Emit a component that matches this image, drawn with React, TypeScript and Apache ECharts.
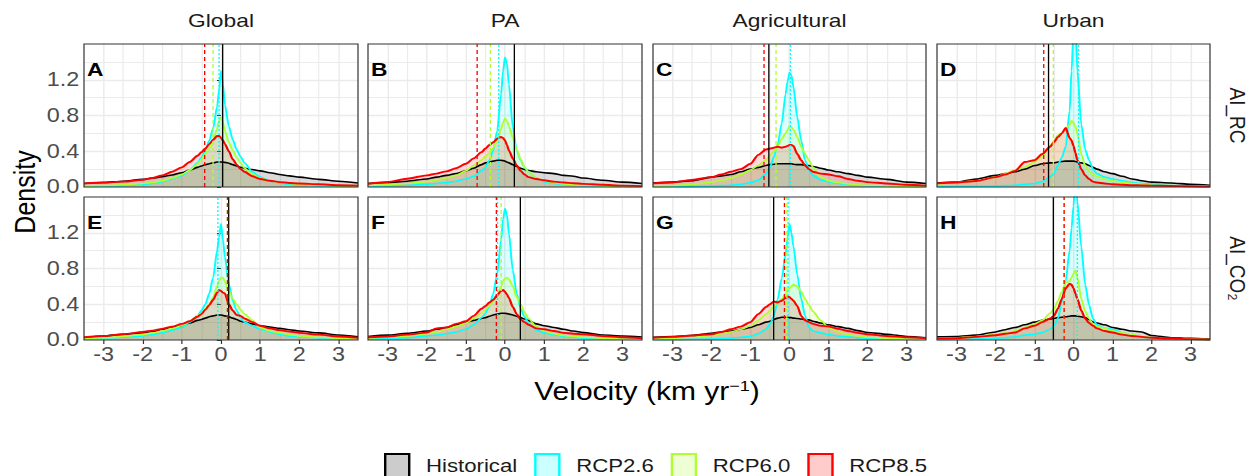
import React, { useEffect, useRef } from "react";
import * as echarts from "echarts";

// ---------- data ----------
const VELOCITY = [-3.5, -3, -2.5, -2, -1.75, -1.5, -1.25, -1, -0.8, -0.6, -0.5, -0.4, -0.3, -0.2, -0.1, -0.05, 0, 0.05, 0.1, 0.2, 0.3, 0.4, 0.5, 0.6, 0.8, 1, 1.25, 1.5, 1.75, 2, 2.5, 3, 3.5];

const COLUMNS = ["Global", "PA", "Agricultural", "Urban"];
const ROWS = ["AI_RC", "AI_CO₂"];
const TAGS = ["A", "B", "C", "D", "E", "F", "G", "H"];
const SCENARIOS = ["Historical", "RCP2.6", "RCP6.0", "RCP8.5"];
const Y_TICK_LABELS = ["0.0", "0.4", "0.8", "1.2"];

// Panel A: Global, AI_RC
const A_HIST = [.04, .05, .065, .085, .1, .115, .135, .16, .19, .22, .235, .25, .26, .27, .28, .28, .28, .28, .275, .265, .25, .235, .22, .21, .195, .18, .16, .14, .125, .11, .085, .065, .045];
const A_R26 = [.005, .01, .015, .03, .04, .06, .09, .13, .19, .27, .33, .41, .52, .66, .9, 1.08, 1.3, 1.15, .92, .68, .53, .42, .34, .27, .17, .11, .07, .045, .03, .02, .012, .008, .005];
const A_R60 = [.01, .015, .025, .04, .05, .07, .1, .14, .19, .26, .31, .37, .44, .53, .65, .74, .78, .72, .63, .5, .41, .33, .27, .21, .14, .1, .07, .05, .04, .03, .02, .012, .008];
const A_R85 = [.04, .05, .06, .08, .1, .13, .17, .22, .28, .35, .39, .43, .48, .53, .57, .57, .55, .52, .48, .4, .31, .25, .2, .17, .12, .09, .07, .055, .045, .04, .03, .02, .015];
// Panel B: PA, AI_RC
const B_HIST = [.04, .05, .065, .09, .11, .13, .15, .18, .21, .25, .27, .28, .29, .3, .3, .295, .29, .28, .27, .25, .23, .21, .195, .185, .17, .16, .15, .13, .12, .1, .075, .055, .04];
const B_R26 = [.008, .012, .02, .03, .04, .05, .065, .09, .12, .18, .22, .3, .41, .63, 1.04, 1.3, 1.45, 1.38, 1.15, .67, .41, .3, .22, .17, .1, .06, .04, .03, .02, .015, .01, .005, .003];
const B_R60 = [.015, .025, .04, .06, .08, .1, .13, .18, .24, .3, .34, .38, .44, .52, .65, .72, .77, .74, .68, .55, .42, .31, .22, .17, .1, .07, .05, .035, .025, .02, .012, .008, .005];
const B_R85 = [.037, .056, .093, .13, .15, .175, .21, .26, .32, .39, .43, .47, .5, .54, .56, .55, .52, .47, .41, .32, .24, .18, .14, .11, .09, .075, .06, .05, .042, .035, .025, .015, .01];
// Panel C: Agricultural, AI_RC
const C_HIST = [.045, .055, .07, .11, .125, .14, .17, .2, .22, .24, .25, .255, .26, .26, .26, .26, .26, .26, .255, .25, .25, .245, .24, .23, .21, .19, .17, .15, .13, .11, .085, .055, .04];
const C_R26 = [.003, .005, .007, .01, .015, .02, .03, .05, .075, .15, .22, .34, .48, .71, 1.04, 1.18, 1.28, 1.25, 1.12, .78, .52, .3, .19, .13, .08, .06, .04, .03, .02, .015, .01, .005, .003];
const C_R60 = [.01, .015, .03, .055, .075, .1, .14, .19, .24, .3, .35, .4, .46, .54, .6, .64, .68, .67, .64, .56, .45, .37, .3, .22, .11, .07, .05, .035, .025, .02, .012, .008, .005];
const C_R85 = [.04, .05, .08, .11, .14, .17, .2, .26, .36, .42, .43, .44, .45, .44, .45, .46, .47, .47, .46, .37, .3, .24, .2, .17, .15, .14, .12, .09, .07, .055, .04, .025, .015];
// Panel D: Urban, AI_RC
const D_HIST = [.045, .055, .09, .13, .15, .17, .2, .24, .26, .27, .27, .28, .285, .29, .29, .29, .29, .285, .28, .27, .26, .24, .22, .2, .17, .15, .12, .09, .07, .055, .045, .03, .02];
const D_R26 = [.003, .005, .008, .01, .015, .02, .03, .04, .06, .11, .16, .24, .33, .45, .85, 1.3, 1.75, 1.8, 1.3, .7, .42, .3, .2, .15, .11, .09, .07, .05, .04, .03, .015, .01, .005];
const D_R60 = [.03, .05, .07, .11, .15, .19, .22, .28, .34, .46, .52, .58, .6, .65, .7, .74, .72, .68, .6, .37, .24, .18, .14, .12, .09, .07, .055, .04, .03, .02, .015, .01, .005];
const D_R85 = [.04, .05, .067, .11, .14, .18, .28, .3, .37, .45, .5, .56, .6, .66, .55, .52, .46, .38, .3, .2, .13, .09, .06, .05, .04, .03, .025, .02, .018, .015, .012, .008, .005];
// Panel E: Global, AI_CO2
const E_HIST = [.026, .045, .064, .083, .095, .12, .14, .16, .19, .22, .23, .245, .26, .27, .28, .28, .28, .275, .27, .26, .245, .23, .21, .2, .18, .16, .145, .13, .115, .1, .08, .056, .035];
const E_R26 = [.015, .02, .03, .045, .06, .08, .11, .14, .2, .27, .33, .4, .52, .7, 1.0, 1.15, 1.3, 1.12, .93, .63, .44, .33, .25, .2, .16, .12, .09, .064, .045, .035, .025, .015, .01];
const E_R60 = [.015, .025, .04, .06, .08, .1, .13, .16, .21, .27, .3, .35, .4, .48, .6, .66, .7, .7, .65, .55, .46, .4, .34, .29, .22, .14, .1, .08, .06, .045, .03, .02, .01];
const E_R85 = [.03, .045, .065, .09, .105, .125, .15, .18, .21, .26, .29, .34, .39, .45, .53, .56, .55, .53, .52, .4, .33, .28, .27, .24, .2, .16, .13, .11, .095, .08, .06, .04, .025];
// Panel F: PA, AI_CO2
const F_HIST = [.04, .055, .075, .1, .12, .14, .17, .2, .22, .24, .25, .265, .28, .29, .3, .3, .3, .295, .29, .28, .265, .25, .235, .22, .18, .16, .14, .12, .1, .083, .056, .045, .034];
const F_R26 = [.01, .015, .025, .045, .055, .07, .09, .12, .17, .25, .3, .38, .52, .74, 1.12, 1.35, 1.47, 1.4, 1.19, .78, .52, .35, .26, .19, .11, .08, .06, .04, .03, .02, .015, .01, .005];
const F_R60 = [.02, .03, .045, .07, .09, .12, .15, .19, .24, .3, .34, .38, .44, .5, .6, .66, .69, .7, .68, .6, .48, .4, .31, .24, .15, .1, .07, .05, .04, .03, .02, .012, .008];
const F_R85 = [.03, .04, .06, .083, .13, .14, .18, .21, .27, .35, .38, .42, .45, .5, .55, .56, .54, .51, .47, .37, .29, .23, .2, .17, .13, .12, .1, .08, .07, .064, .045, .03, .02];
// Panel G: Agricultural, AI_CO2
const G_HIST = [.03, .04, .05, .076, .09, .1, .12, .14, .17, .2, .21, .23, .245, .255, .255, .255, .25, .25, .245, .24, .235, .23, .225, .21, .19, .17, .15, .13, .105, .084, .065, .04, .025];
const G_R26 = [.003, .005, .008, .01, .015, .02, .03, .04, .07, .12, .18, .27, .46, .69, .96, 1.15, 1.3, 1.2, 1.05, .73, .46, .27, .14, .1, .08, .06, .045, .035, .025, .02, .015, .01, .005];
const G_R60 = [.012, .02, .03, .05, .07, .09, .12, .16, .22, .29, .33, .38, .42, .46, .52, .55, .58, .6, .62, .6, .54, .46, .39, .32, .22, .14, .09, .06, .045, .03, .02, .01, .006];
const G_R85 = [.025, .035, .05, .065, .09, .12, .15, .2, .29, .37, .4, .43, .42, .44, .47, .49, .48, .46, .44, .38, .27, .22, .2, .18, .16, .15, .125, .1, .08, .065, .045, .03, .02];
// Panel H: Urban, AI_CO2
const H_HIST = [.035, .04, .055, .09, .115, .14, .17, .2, .22, .235, .24, .25, .255, .26, .265, .27, .27, .27, .265, .26, .25, .23, .2, .19, .17, .14, .12, .1, .09, .05, .025, .018, .01];
const H_R26 = [.003, .005, .01, .02, .025, .034, .055, .065, .084, .12, .16, .24, .43, .66, 1.0, 1.25, 1.5, 1.85, 1.55, 1.04, .62, .39, .24, .17, .13, .12, .08, .05, .035, .02, .012, .008, .004];
const H_R60 = [.015, .025, .04, .06, .08, .1, .14, .18, .22, .3, .35, .44, .54, .64, .66, .7, .74, .78, .7, .46, .32, .24, .18, .15, .13, .1, .08, .06, .04, .025, .015, .01, .005];
const H_R85 = [.015, .02, .035, .053, .07, .084, .13, .16, .2, .24, .27, .35, .46, .58, .63, .62, .58, .52, .46, .33, .24, .19, .16, .13, .1, .084, .06, .045, .035, .025, .015, .01, .005];

// mean velocities (vertical lines), one per panel A..H
const MEAN_HIST = [0.05, 0.24, -0.55, -0.66, 0.2, 0.38, -0.42, -0.52];
const MEAN_R26 = [-0.05, -0.17, 0.02, 0.12, -0.1, -0.2, -0.05, 0.085];
const MEAN_R60 = [-0.2, -0.38, -0.35, -0.54, 0.15, -0.11, -0.07, -0.24];
const MEAN_R85 = [-0.42, -0.72, -0.65, -0.78, 0.17, -0.23, -0.13, -0.24];

const PANELS = [
  [A_HIST, A_R26, A_R60, A_R85],
  [B_HIST, B_R26, B_R60, B_R85],
  [C_HIST, C_R26, C_R60, C_R85],
  [D_HIST, D_R26, D_R60, D_R85],
  [E_HIST, E_R26, E_R60, E_R85],
  [F_HIST, F_R26, F_R60, F_R85],
  [G_HIST, G_R26, G_R60, G_R85],
  [H_HIST, H_R26, H_R60, H_R85],
];
const MEANS = [MEAN_HIST, MEAN_R26, MEAN_R60, MEAN_R85];

// ---------- styles / layout ----------
const LINE = ["#000000", "#00FFFF", "#ADFF2F", "#FF0000"];
const FILL = ["rgba(0,0,0,0.2)", "rgba(0,255,255,0.2)", "rgba(173,255,47,0.2)", "rgba(255,0,0,0.2)"];
const MEAN_TYPE: any[] = ["solid", [2, 2], [4, 3], [4, 3]];
const FONT = '"Liberation Sans", Arial, Helvetica, sans-serif';

// the reference figure is horizontally stretched; draw on a narrower canvas and stretch it
const BASE_W = 1048;
const SX = 1258 / BASE_W;
const px = (v: number) => v / SX;

const GRID_LEFT = [px(84), px(368), px(653), px(937)];
const GRID_W = [px(274), px(274), px(273), px(273)];
const GRID_TOP = [44, 197];
const GRID_H = 143;

function buildOption() {
  const grids: any[] = [];
  const xAxes: any[] = [];
  const yAxes: any[] = [];
  const series: any[] = [];
  const graphics: any[] = [];

  for (let p = 0; p < 8; p++) {
    const r = Math.floor(p / 4);
    const c = p % 4;
    grids.push({ left: GRID_LEFT[c], top: GRID_TOP[r], width: GRID_W[c], height: GRID_H, containLabel: false });
    const bottom = r === 1;
    const leftCol = c === 0;
    xAxes.push({
      type: "value", gridIndex: p, min: -3.5, max: 3.5, splitNumber: 7,
      axisLine: { show: false },
      axisTick: { show: bottom, length: 4, lineStyle: { color: "#333333", width: 1 } },
      axisLabel: {
        show: bottom, showMinLabel: false, showMaxLabel: false, margin: 5,
        color: "#4D4D4D", fontSize: 19.5, fontFamily: FONT,
        formatter: (v: number) => (Number.isInteger(v) ? String(v) : ""),
      },
      splitLine: { show: true, showMinLine: false, showMaxLine: false, lineStyle: { color: "#EBEBEB", width: 1.2 } },
      minorTick: { show: false, splitNumber: 2 },
      minorSplitLine: { show: true, lineStyle: { color: "#EBEBEB", width: 1 } },
    });
    yAxes.push({
      type: "value", gridIndex: p, min: 0, max: 1.6, interval: 0.4,
      axisLine: { show: false },
      axisTick: { show: leftCol, length: 3.4, lineStyle: { color: "#333333", width: 1 } },
      axisLabel: {
        show: leftCol, showMaxLabel: false, margin: 4,
        color: "#4D4D4D", fontSize: 19.5, fontFamily: FONT,
        formatter: (v: number) => Y_TICK_LABELS[Math.round(v / 0.4)] ?? "",
      },
      splitLine: { show: true, showMinLine: false, showMaxLine: false, lineStyle: { color: "#EBEBEB", width: 1.3 } },
      minorTick: { show: false, splitNumber: 2 },
      minorSplitLine: { show: true, lineStyle: { color: "#EBEBEB", width: 1 } },
    });

    for (let s = 0; s < 4; s++) {
      const vals = PANELS[p][s];
      const item: any = {
        type: "line",
        name: SCENARIOS[s],
        xAxisIndex: p,
        yAxisIndex: p,
        data: VELOCITY.map((x, i) => [x, vals[i]]),
        showSymbol: false,
        symbol: "none",
        smooth: 0.25,
        smoothMonotone: "x",
        silent: true,
        clip: true,
        lineStyle: { color: LINE[s], width: s === 3 ? 1.9 : 1.6, join: "round" },
        itemStyle: { color: LINE[s] },
        areaStyle: { color: FILL[s] },
      };
      if (s === 3) {
        item.markLine = {
          silent: true,
          symbol: ["none", "none"],
          label: { show: false },
          animation: false,
          data: MEANS.map((m, k) => ({
            xAxis: m[p],
            lineStyle: { color: LINE[k], type: MEAN_TYPE[k], width: 1.1 },
          })),
        };
      }
      series.push(item);
    }

    // panel frame
    graphics.push({
      type: "rect", z: 100, silent: true,
      shape: { x: GRID_LEFT[c], y: GRID_TOP[r], width: GRID_W[c], height: GRID_H },
      style: { fill: "none", stroke: "#333333", lineWidth: 1 },
    });
    // panel tag
    graphics.push({
      type: "text", z: 100, x: GRID_LEFT[c] + 2.5, y: GRID_TOP[r] + 25,
      style: { text: TAGS[p], fill: "#000", fontSize: 19, fontWeight: "bold", fontFamily: FONT, align: "left", verticalAlign: "middle" },
    });
  }

  // column strips
  COLUMNS.forEach((name, c) => {
    graphics.push({
      type: "text", x: GRID_LEFT[c] + GRID_W[c] / 2, y: 20.5,
      style: { text: name, fill: "#1A1A1A", fontSize: 19, fontFamily: FONT, align: "center", verticalAlign: "middle" },
    });
  });
  // row strips
  ROWS.forEach((name, r) => {
    graphics.push({
      type: "text", x: px(1238), y: GRID_TOP[r] + GRID_H / 2, rotation: -Math.PI / 2,
      style: { text: name, fill: "#1A1A1A", fontSize: 19, fontFamily: FONT, align: "center", verticalAlign: "middle" },
    });
  });
  // axis titles
  graphics.push({
    type: "text", x: px(25), y: 192, rotation: Math.PI / 2,
    style: { text: "Density", fill: "#000", fontSize: 25, fontFamily: FONT, align: "center", verticalAlign: "middle" },
  });
  graphics.push({
    type: "text", x: px(647), y: 391,
    style: {
      text: "Velocity (km yr{sup|−1})", fill: "#000", fontSize: 25, fontFamily: FONT,
      align: "center", verticalAlign: "middle",
      rich: { sup: { fontSize: 15, fontFamily: FONT, fill: "#000", verticalAlign: "top", lineHeight: 25 } },
    },
  });

  return {
    animation: false,
    backgroundColor: "#FFFFFF",
    grid: grids,
    xAxis: xAxes,
    yAxis: yAxes,
    series,
    graphic: graphics,
    legend: {
      selectedMode: false,
      left: px(378),
      top: 448,
      itemWidth: 20,
      itemHeight: 24,
      itemGap: 14,
      icon: "rect",
      textStyle: { fontSize: 18.5, color: "#1A1A1A", fontFamily: FONT, padding: [0, 0, 0, 9] },
      data: SCENARIOS.map((n, i) => ({
        name: n,
        icon: "rect",
        itemStyle: { color: FILL[i], borderColor: LINE[i], borderWidth: 2 },
      })),
    },
  };
}

export default function App() {
  const ref = useRef<HTMLDivElement>(null);
  useEffect(() => {
    if (!ref.current) return;
    const chart = echarts.init(ref.current, undefined, { renderer: "svg" });
    chart.setOption(buildOption() as any);
    return () => chart.dispose();
  }, []);
  return (
    <div
      style={{ position: "absolute", left: 0, top: 0, width: 1258, height: 476, overflow: "hidden", background: "#fff" }}
    >
      <div
        ref={ref}
        style={{ width: BASE_W, height: 476, transform: `scaleX(${SX})`, transformOrigin: "0 0" }}
      />
    </div>
  );
}
